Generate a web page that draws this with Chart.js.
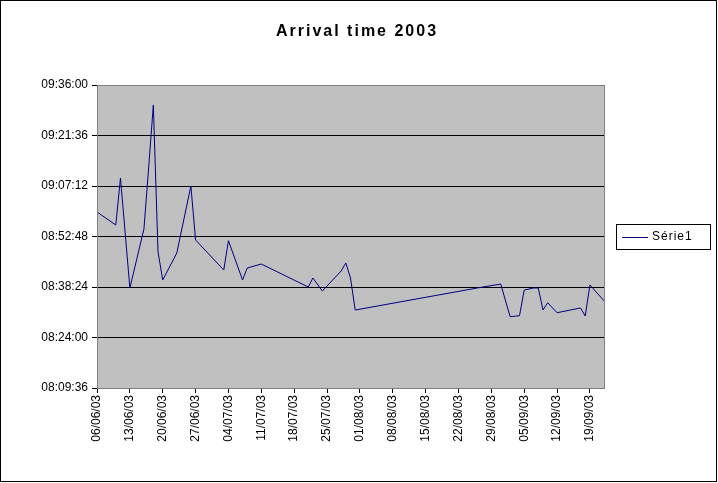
<!DOCTYPE html>
<html>
<head>
<meta charset="utf-8">
<script src="https://cdn.jsdelivr.net/npm/chart.js@4"></script>
<style>
  body{margin:0;background:#fff;}
  #wrap{position:relative;width:718px;height:483px;}
</style>
</head>
<body>
<div id="wrap"><canvas id="c" width="718" height="483"></canvas></div>
<script>
// days since 06/06/03 and arrival time in seconds after midnight
const days  = [0, 4, 5, 7, 10, 11, 12, 13, 14, 17, 20, 21, 27, 28, 31, 32, 35, 45, 46, 48, 52, 53, 54, 55, 81, 86, 88, 90, 91, 93, 94, 95, 96, 98, 103, 104, 105, 108];
const times = [32387, 32165, 32969, 31087, 32096, 33140, 34218, 31703, 31224, 31686, 32832, 31908, 31395, 31896, 31224, 31429, 31497, 31104, 31258, 31035, 31378, 31515, 31258, 30710, 31087, 31155, 30596, 30613, 31052, 31087, 31087, 30710, 30835, 30664, 30745, 30608, 31138, 30869];
const seriesName = 'Série1';
const chartTitle = 'Arrival time 2003';
const startDate = new Date(2003, 5, 6);

const pad = n => String(n).padStart(2, '0');
function fmtTime(s){ return pad(Math.floor(s/3600)) + ':' + pad(Math.floor(s%3600/60)) + ':' + pad(Math.round(s%60)); }
function fmtDate(d){ const t = new Date(startDate); t.setDate(t.getDate() + d); return pad(t.getDate()) + '/' + pad(t.getMonth()+1) + '/' + String(t.getFullYear()).slice(2); }

const deco = {
  id: 'deco',
  beforeDraw(chart){
    const {ctx, chartArea:a} = chart;
    ctx.save();
    ctx.fillStyle = '#c0c0c0';
    ctx.fillRect(a.left, a.top, a.right - a.left, a.bottom - a.top);
    ctx.restore();
  },
  afterDraw(chart){
    const {ctx, chartArea:a} = chart;
    ctx.save();
    ctx.strokeStyle = '#000'; ctx.lineWidth = 1;
    ctx.strokeRect(0.5, 0.5, 716, 481);
    ctx.strokeStyle = '#808080';
    ctx.strokeRect(a.left + 0.5, a.top + 0.5, a.right - a.left, a.bottom - a.top);
    // title
    ctx.fillStyle = '#000';
    ctx.font = 'bold 16px "Liberation Sans", Arial';
    ctx.letterSpacing = '2px';
    ctx.textAlign = 'center'; ctx.textBaseline = 'middle';
    ctx.fillText(chartTitle, 357, 32);
    // legend
    ctx.letterSpacing = '1px';
    ctx.strokeStyle = '#000';
    ctx.strokeRect(616.5, 224.5, 94, 25);
    ctx.strokeStyle = '#000080'; ctx.beginPath();
    ctx.moveTo(622, 237.5); ctx.lineTo(648, 237.5); ctx.stroke();
    ctx.font = '12px "Liberation Sans", Arial';
    ctx.textAlign = 'left';
    ctx.fillText(seriesName, 652, 237);
    ctx.restore();
  }
};

new Chart(document.getElementById('c').getContext('2d'), {
  type: 'line',
  data: { datasets: [{ label: seriesName, data: days.map((d, i) => ({x: d, y: times[i]})), borderColor: '#000080', borderWidth: 1, pointRadius: 0, tension: 0, fill: false }] },
  options: {
    responsive: false, animation: false,
    layout: { padding: { top: 85, right: 114, left: 0, bottom: 0 } },
    plugins: { legend: { display: false }, tooltip: { enabled: false } },
    scales: {
      x: {
        type: 'linear', min: 0, max: 108,
        afterFit(s){ s.height = 95; },
        afterBuildTicks(s){ s.ticks = []; for (let d = 0; d <= 105; d += 7) s.ticks.push({value: d}); },
        ticks: { callback: v => fmtDate(v), minRotation: 90, maxRotation: 90, autoSkip: false, color: '#000', font: { family: '"Liberation Sans", Arial', size: 12 }, padding: 2 },
        grid: { drawOnChartArea: false, color: '#000', tickLength: 5 },
        border: { color: '#000' }
      },
      y: {
        min: 29376, max: 34560,
        afterFit(s){ s.width = 97; },
        afterBuildTicks(s){ s.ticks = []; for (let v = 29376; v <= 34560; v += 864) s.ticks.push({value: v}); },
        ticks: { callback: v => fmtTime(v), color: '#000', font: { family: '"Liberation Sans", Arial', size: 12 }, padding: 4 },
        grid: { color: '#000', tickLength: 5 },
        border: { color: '#000' }
      }
    }
  },
  plugins: [deco]
});
</script>
</body>
</html>
